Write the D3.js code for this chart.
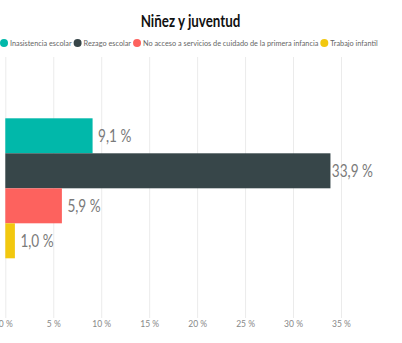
<!DOCTYPE html>
<html><head><meta charset="utf-8">
<script src="https://cdn.jsdelivr.net/npm/d3@7"></script>
<style>body{margin:0;background:#fff;}svg{display:block;}</style>
</head><body>
<svg id="c" width="402" height="343"></svg>
<script>
const categories = ["Inasistencia escolar","Rezago escolar","No acceso a servicios de cuidado de la primera infancia","Trabajo infantil"];
const values = [9.1, 33.9, 5.9, 1.0];
const colors = ["#01B8AA","#374649","#FD625E","#F2C80F"];
const ticks = [0,5,10,15,20,25,30,35];
const title = "Niñez y juventud";
const FONT = "Lato, sans-serif";

const svg = d3.select("#c");
const x = d3.scaleLinear().domain([0,35]).range([5.3,341]);
const y = d3.scaleBand().domain(categories).range([118.3,258.3]).padding(0);
const fmt = v => d3.format(".1f")(v).replace(".", ",") + " %";
const SX = 0.8;

svg.append("text").attr("transform","translate(190.5,27) scale(0.81,1)").attr("text-anchor","middle")
  .attr("font-family",FONT).attr("font-weight","bold").attr("font-size",16.5).attr("fill","#111")
  .text(title);

// legend
const lg = svg.append("g").attr("font-family",FONT).attr("font-size",7.3).attr("fill","#666");
let lx = 4;
categories.forEach((c,i)=>{
  lg.append("circle").attr("cx",lx).attr("cy",43).attr("r",4).attr("fill",colors[i]);
  const t = lg.append("text").attr("x",lx+6).attr("y",45.6).text(c);
  lx += 6 + t.node().getComputedTextLength() + 6;
});

// grid
const xAxis = d3.axisBottom(x).tickValues(ticks).tickSize(318-57).tickFormat(d=>d+" %");
const ga = svg.append("g").attr("transform","translate(0,57)").call(xAxis);
ga.select(".domain").remove();
ga.selectAll(".tick line").attr("stroke","#ebebeb").attr("stroke-width",1);
ga.selectAll(".tick text").attr("fill","#888").attr("font-size",8.5).attr("font-family",FONT).attr("dy","0.6em").attr("y",318-57+4);

// bars
svg.selectAll("rect.bar").data(values).join("rect").attr("class","bar")
  .attr("x",x(0)).attr("y",(d,i)=>y(categories[i]))
  .attr("width",d=>x(d)-x(0)).attr("height",y.bandwidth())
  .attr("fill",(d,i)=>colors[i]);

const lbl = svg.selectAll("text.lbl").data(values).join("text").attr("class","lbl")
  .attr("font-family",FONT).attr("font-size",17).attr("fill","#7a7a7a")
  .text(fmt);
lbl.each(function(d,i){
  const w = this.getComputedTextLength()*SX;
  const lx = Math.min(x(d)+5.5, 373 - w);
  const ly = y(categories[i]) + y.bandwidth()/2 + 6.2;
  d3.select(this).attr("transform",`translate(${lx},${ly}) scale(${SX},1)`);
});
</script>
</body></html>
